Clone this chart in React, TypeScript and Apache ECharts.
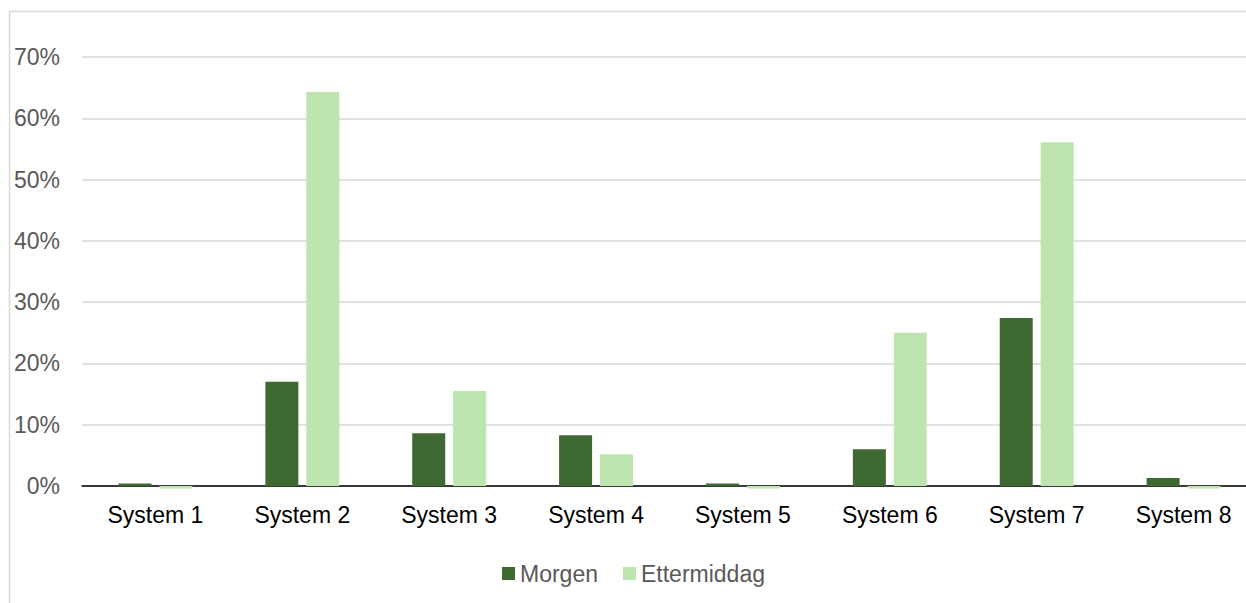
import React, { useEffect, useRef } from "react";
import * as echarts from "echarts";

const categories = ["System 1", "System 2", "System 3", "System 4", "System 5", "System 6", "System 7", "System 8"];
const morgen = [0.4, 17.0, 8.6, 8.3, 0.4, 6.0, 27.4, 1.3];
const ettermiddag = [-0.4, 64.3, 15.5, 5.2, -0.4, 25.0, 56.1, -0.4];
const seriesNames = ["Morgen", "Ettermiddag"];

export default function App() {
  const ref = useRef<HTMLDivElement>(null);
  useEffect(() => {
    if (!ref.current) return;
    const chart = echarts.init(ref.current, undefined, { renderer: "svg" });
    const font = "'Liberation Sans', Arial, sans-serif";
    chart.setOption({
      animation: false,
      backgroundColor: "#ffffff",
      textStyle: { fontFamily: font },
      graphic: [
        {
          type: "rect",
          shape: { x: 9.5, y: 11.5, width: 1400, height: 800 },
          style: { fill: "none", stroke: "#d9d9d9", lineWidth: 1.5 },
          silent: true,
        },
      ],
      grid: { left: 82, top: 57, width: 1175, height: 429, containLabel: false },
      legend: {
        left: 497,
        top: 557,
        itemWidth: 13,
        itemHeight: 13,
        itemGap: 25,
        icon: "rect",
        textStyle: { color: "#595959", fontSize: 23, fontFamily: font },
        data: seriesNames,
      },
      xAxis: {
        type: "category",
        data: categories,
        axisLine: { show: true, lineStyle: { color: "#000000", width: 1.5 } },
        axisTick: { show: false },
        axisLabel: { color: "#000000", fontSize: 23, fontFamily: font, margin: 17 },
      },
      yAxis: {
        type: "value",
        min: 0,
        max: 70,
        interval: 10,
        axisLine: { show: false },
        axisTick: { show: false },
        axisLabel: { color: "#595959", fontSize: 23, fontFamily: font, margin: 22, formatter: "{value}%" },
        splitLine: { lineStyle: { color: "#d9d9d9", width: 1.5 } },
      },
      series: [
        {
          name: seriesNames[0],
          type: "bar",
          data: morgen,
          barWidth: 33,
          barGap: "24%",
          clip: false,
          itemStyle: { color: "#3f6933" },
        },
        {
          name: seriesNames[1],
          type: "bar",
          data: ettermiddag,
          barWidth: 33,
          barGap: "24%",
          clip: false,
          itemStyle: { color: "#bee4b0" },
        },
      ],
    });
    return () => chart.dispose();
  }, []);
  return (
    <div style={{ position: "fixed", left: 0, top: 0, width: 1246, height: 603, overflow: "hidden", background: "#fff" }}>
      <div ref={ref} style={{ width: 1300, height: 660 }} />
    </div>
  );
}
